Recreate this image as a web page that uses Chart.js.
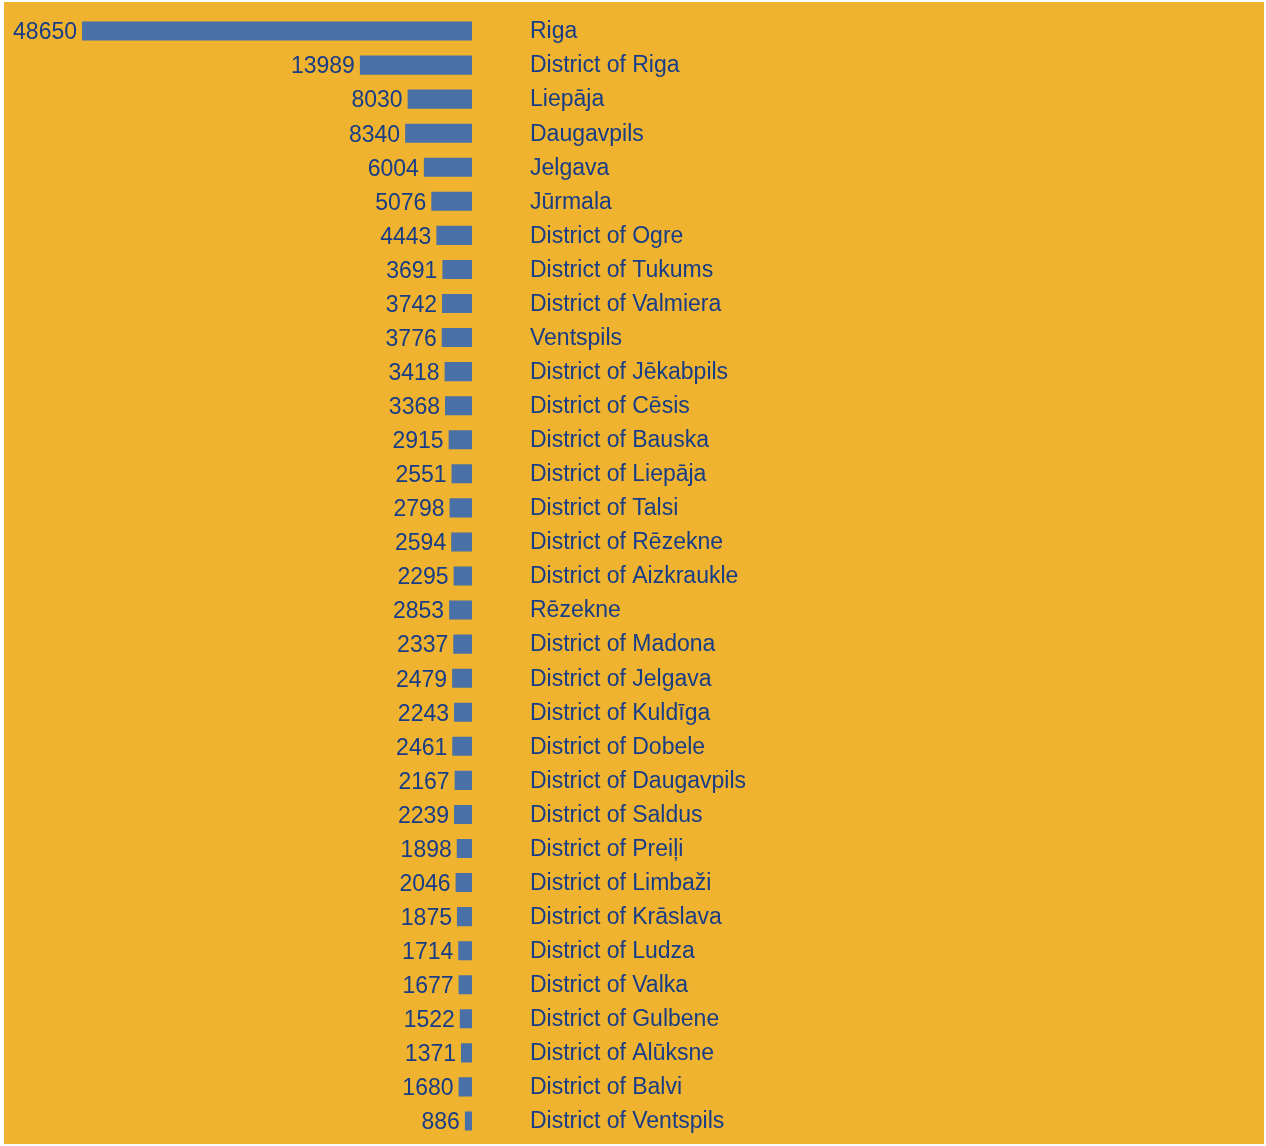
<!DOCTYPE html>
<html>
<head>
<meta charset="utf-8">
<script src="https://cdn.jsdelivr.net/npm/chart.js@4/dist/chart.umd.min.js"></script>
<style>
  html, body { margin: 0; padding: 0; background: #ffffff; }
  #panel {
    position: absolute; left: 4px; top: 2px;
    width: 1260px; height: 1142px;
    background: #efb32f;
  }
</style>
</head>
<body>
<div id="panel"><canvas id="chart" width="1260" height="1142"></canvas></div>
<script>
// Data
const places = [
    'Riga', 'District of Riga', 'Liepāja', 'Daugavpils', 'Jelgava', 'Jūrmala',
    'District of Ogre', 'District of Tukums', 'District of Valmiera', 'Ventspils',
    'District of Jēkabpils', 'District of Cēsis', 'District of Bauska', 'District of Liepāja',
    'District of Talsi', 'District of Rēzekne', 'District of Aizkraukle', 'Rēzekne',
    'District of Madona', 'District of Jelgava', 'District of Kuldīga', 'District of Dobele',
    'District of Daugavpils', 'District of Saldus', 'District of Preiļi', 'District of Limbaži',
    'District of Krāslava', 'District of Ludza', 'District of Valka', 'District of Gulbene',
    'District of Alūksne', 'District of Balvi', 'District of Ventspils'
];
const counts = [
    48650, 13989, 8030, 8340, 6004, 5076,
    4443, 3691, 3742, 3776,
    3418, 3368, 2915, 2551,
    2798, 2594, 2295, 2853,
    2337, 2479, 2243, 2461,
    2167, 2239, 1898, 2046,
    1875, 1714, 1677, 1522,
    1371, 1680, 886
];
const axisMax = 50000;

const textColor = '#183d86';
const barColor = '#4a70a8';
const fontFamily = '"Liberation Sans", Arial, sans-serif';
const fontSize = 23;

// value labels to the left of each bar
const valueLabels = {
    id: 'valueLabels',
    afterDatasetsDraw(chart) {
        const ctx = chart.ctx;
        const meta = chart.getDatasetMeta(0);
        ctx.save();
        ctx.font = fontSize + 'px ' + fontFamily;
        ctx.fillStyle = textColor;
        ctx.textAlign = 'right';
        ctx.textBaseline = 'middle';
        meta.data.forEach((bar, i) => {
            const left = Math.min(bar.x, bar.base);
            ctx.fillText(String(counts[i]), left - 5, bar.y + 2);
        });
        ctx.restore();
    }
};

new Chart(document.getElementById('chart'), {
    type: 'bar',
    data: {
        labels: places,
        datasets: [{
            data: counts,
            backgroundColor: barColor,
            borderWidth: 0,
            categoryPercentage: 1,
            barPercentage: 0.56
        }]
    },
    options: {
        indexAxis: 'y',
        responsive: false,
        animation: false,
        layout: {
            padding: { left: 67.2, top: 12, bottom: 6, right: 0 }
        },
        scales: {
            x: {
                display: false,
                reverse: true,
                min: 0,
                max: axisMax
            },
            y: {
                position: 'right',
                grid: { display: false, drawTicks: false },
                border: { display: false },
                ticks: {
                    color: textColor,
                    font: { family: fontFamily, size: fontSize },
                    padding: 58,
                    labelOffset: 1,
                    autoSkip: false
                },
                afterFit: (scale) => {
                    scale.width = 792;
                    scale.paddingTop = 0;
                    scale.paddingBottom = 0;
                }
            }
        },
        plugins: {
            legend: { display: false },
            tooltip: { enabled: false }
        }
    },
    plugins: [valueLabels]
});
</script>
</body>
</html>
